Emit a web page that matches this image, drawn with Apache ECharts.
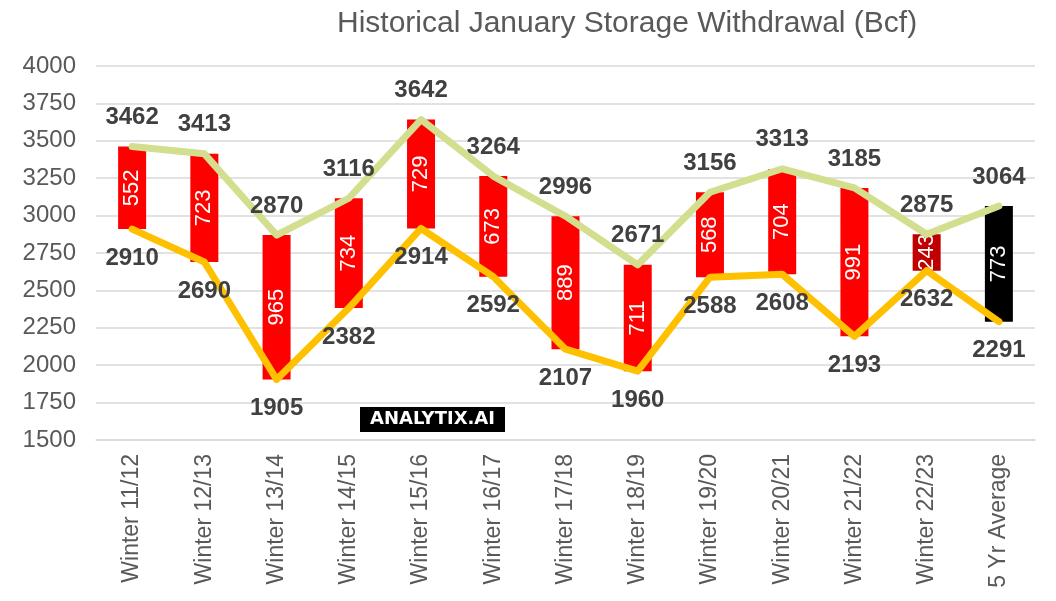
<!DOCTYPE html>
<html>
<head>
<meta charset="utf-8">
<script src="https://cdn.jsdelivr.net/npm/echarts@6/dist/echarts.min.js"></script>
<style>
  html, body { margin: 0; padding: 0; background: #fff; }
  #chart { width: 1056px; height: 601px; }
</style>
</head>
<body>
<div id="chart"></div>
<script>
var categories = ["Winter 11/12", "Winter 12/13", "Winter 13/14", "Winter 14/15", "Winter 15/16",
  "Winter 16/17", "Winter 17/18", "Winter 18/19", "Winter 19/20", "Winter 20/21",
  "Winter 21/22", "Winter 22/23", "5 Yr Average"];
var startStorage = [3462, 3413, 2870, 3116, 3642, 3264, 2996, 2671, 3156, 3313, 3185, 2875, 3064];
var endStorage = [2910, 2690, 1905, 2382, 2914, 2592, 2107, 1960, 2588, 2608, 2193, 2632, 2291];
var withdrawal = [552, 723, 965, 734, 729, 673, 889, 711, 568, 704, 991, 243, 773];
var yTicks = { min: 1500, max: 4000, interval: 250 };

var barColors = withdrawal.map(function (v, i) {
  if (i === categories.length - 1) return "#000000";
  if (i === categories.length - 2) return "#C00000";
  return "#FF0000";
});

var labelFont = "Liberation Sans, Arial, sans-serif";

var chart = echarts.init(document.getElementById("chart"));
var option = {
  animation: false,
  backgroundColor: "#ffffff",
  title: {
    text: "Historical January Storage Withdrawal (Bcf)",
    left: 332,
    top: 4,
    textStyle: {
      fontFamily: labelFont,
      fontSize: 30,
      fontWeight: "normal",
      color: "#595959"
    }
  },
  grid: {
    left: 96,
    right: 21,
    top: 66,
    bottom: 161
  },
  xAxis: {
    type: "category",
    data: categories,
    axisTick: { show: false },
    axisLine: { lineStyle: { color: "#D9D9D9", width: 1.5 } },
    axisLabel: {
      rotate: 90,
      margin: 14,
      fontFamily: labelFont,
      fontSize: 23,
      color: "#595959"
    }
  },
  yAxis: {
    type: "value",
    min: yTicks.min,
    max: yTicks.max,
    interval: yTicks.interval,
    axisLine: { show: false },
    axisTick: { show: false },
    splitLine: { lineStyle: { color: "#D9D9D9", width: 1.5 } },
    axisLabel: {
      margin: 20,
      fontFamily: labelFont,
      fontSize: 24,
      color: "#595959",
      formatter: function (v) { return String(v); }
    }
  },
  series: [
    {
      name: "base",
      type: "bar",
      stack: "w",
      barWidth: 28,
      silent: true,
      itemStyle: { color: "transparent" },
      data: endStorage
    },
    {
      name: "Withdrawal",
      type: "bar",
      stack: "w",
      barWidth: 28,
      data: withdrawal.map(function (v, i) {
        return { value: v, itemStyle: { color: barColors[i] } };
      }),
      label: {
        show: true,
        position: "inside",
        rotate: 90,
        fontFamily: labelFont,
        fontSize: 22,
        color: "#ffffff"
      }
    },
    {
      name: "Start",
      type: "line",
      data: startStorage,
      symbol: "circle",
      symbolSize: 0,
      showSymbol: true,
      z: 5,
      lineStyle: { color: "#D3DE8F", width: 7, cap: "round", join: "round" },
      itemStyle: { color: "#D3DE8F" },
      label: {
        show: true,
        position: "top",
        distance: 17,
        fontFamily: labelFont,
        fontSize: 24,
        fontWeight: "bold",
        color: "#404040"
      }
    },
    {
      name: "End",
      type: "line",
      data: endStorage,
      symbol: "circle",
      symbolSize: 0,
      showSymbol: true,
      z: 5,
      lineStyle: { color: "#FFC000", width: 7, cap: "round", join: "round" },
      itemStyle: { color: "#FFC000" },
      label: {
        show: true,
        position: "bottom",
        distance: 17,
        fontFamily: labelFont,
        fontSize: 24,
        fontWeight: "bold",
        color: "#404040"
      }
    }
  ],
  graphic: [
    {
      type: "group",
      left: 360,
      top: 407,
      z: 100,
      children: [
        {
          type: "rect",
          shape: { x: 0, y: 0, width: 145, height: 25 },
          style: { fill: "#000000" }
        },
        {
          type: "text",
          x: 72.5,
          y: 12.5,
          style: {
            text: "ANALYTIX.AI",
            fill: "#ffffff",
            font: "bold 18px 'DejaVu Sans', sans-serif",
            align: "center",
            verticalAlign: "middle"
          }
        }
      ]
    }
  ]
};
chart.setOption(option);
</script>
</body>
</html>
